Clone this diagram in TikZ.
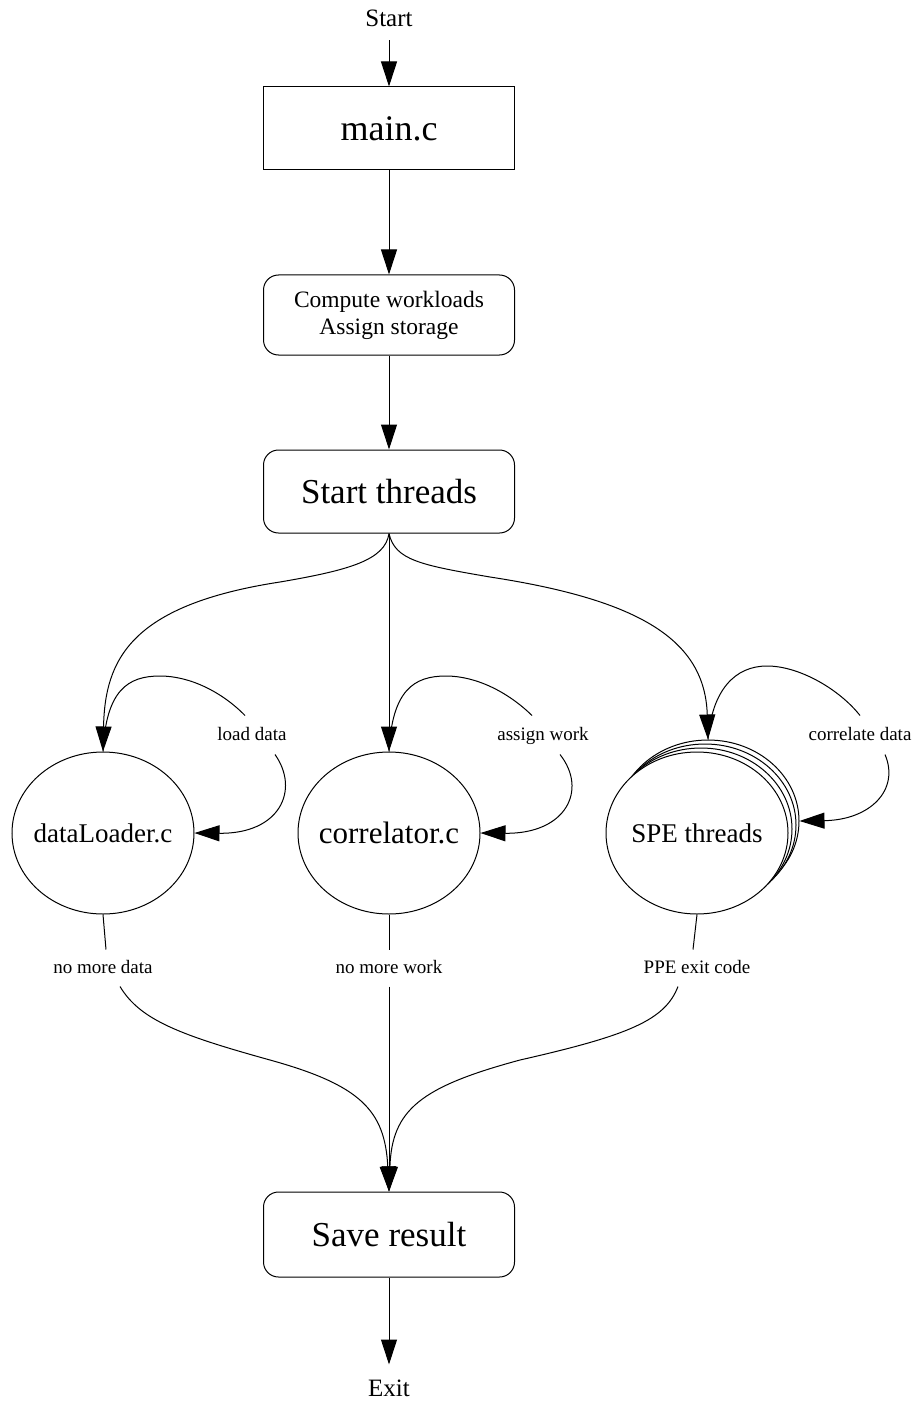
\documentclass[tikz,border=0pt]{standalone}
\usepackage{fontspec}
\setmainfont{Liberation Serif}
\usetikzlibrary{arrows.meta,shapes.geometric}
\begin{document}
\begin{tikzpicture}[x=1pt,y=-1pt,
  line width=1pt,
  arr/.style={-{Triangle[length=25pt,width=16pt]}},
  box/.style={draw, minimum width=251pt, inner sep=0pt},
  rbox/.style={box, rounded corners=15pt},
  oval/.style={draw, ellipse, minimum width=182pt, minimum height=162pt, inner sep=0pt, fill=white},
  elabel/.style={inner sep=0pt, minimum height=38pt, text height=13.5pt, text depth=3.5pt, font=\fontsize{19}{22}\selectfont},
  term/.style={inner sep=0pt, font=\fontsize{25}{30}\selectfont}
]
\useasboundingbox (0,0) rectangle (920,1404);

% main column
\node[term, minimum height=44pt] (start) at (389,18) {Start};
\node[box, minimum height=83pt, font=\fontsize{36}{40}\selectfont] (main) at (389,128.5) {main.c};
\node[rbox, minimum height=80pt, align=center, font=\fontsize{23.5}{27}\selectfont] (work) at (389,315) {Compute workloads\\Assign storage};
\node[rbox, minimum height=83pt, font=\fontsize{35}{40}\selectfont] (thr) at (389,491.5) {Start threads};
\node[rbox, minimum height=85pt, font=\fontsize{35}{40}\selectfont] (save) at (389,1234.5) {Save result};
\node[term, minimum height=46pt] (exit) at (389,1388) {Exit};

% thread states (text boxed at zero width so the ellipse keeps its size)
\node[oval, font=\fontsize{27}{30}\selectfont] (dl) at (103,833) {\makebox[0pt]{dataLoader.c}};
\node[oval, font=\fontsize{31}{34}\selectfont] (cr) at (389,833) {\makebox[0pt]{correlator.c}};
\node[oval] (spe3) at (708,821) {};
\node[oval] (spe2) at (705,825) {};
\node[oval] (spe1) at (701,829) {};
\node[oval, font=\fontsize{27}{30}\selectfont] (spe) at (697,833) {\makebox[0pt]{SPE threads}};

% edge labels
\node[elabel] (ld) at (252,735) {load data};
\node[elabel] (aw) at (543,735) {assign work};
\node[elabel] (cd) at (860,735) {correlate data};
\node[elabel, minimum height=36pt] (nd) at (103,968) {no more data};
\node[elabel, minimum height=36pt] (nw) at (389,968) {no more work};
\node[elabel, minimum height=36pt] (pe) at (697,968) {PPE exit code};

% straight flow
\draw[arr] (start) -- (main);
\draw[arr] (main) -- (work);
\draw[arr] (work) -- (thr);
\draw[arr] (thr) -- (cr);
\draw[arr] (save) -- (exit);

% fan-out to the threads
\draw[arr] (thr.south) .. controls (385,560) and (350,570) .. (280,582)
  .. controls (130,605) and (105,660) .. (dl.north);
\draw[arr] (thr.south) .. controls (395,560) and (420,565) .. (490,577)
  .. controls (640,600) and (705,640) .. (spe3.north);

% self loops
\draw (dl.north) .. controls (106,690) and (128,676) .. (160,676)
  .. controls (190,676) and (222,692) .. ([xshift=-7]ld.north);
\draw[arr] ([xshift=23]ld.south) .. controls (300,790) and (280,834) .. (dl.east);

\draw (cr.north) .. controls (392,690) and (414,676) .. (446,676)
  .. controls (476,676) and (508,692) .. ([xshift=-11]aw.north);
\draw[arr] ([xshift=17]aw.south) .. controls (588,790) and (566,834) .. (cr.east);

\draw (spe3.north) .. controls (712,690) and (735,666) .. (767,666)
  .. controls (800,666) and (840,690) .. (cd.north);
\draw[arr] ([xshift=25]cd.south) .. controls (900,790) and (870,820) .. (spe3.east);

% fan-in to the result
\draw (dl.south) -- ([xshift=3]nd.north);
\draw[arr] ([xshift=17]nd.south) .. controls (140,1020) and (180,1035) .. (270,1060)
  .. controls (360,1085) and (385,1110) .. (save.north);
\draw (cr.south) -- (nw.north);
\draw[arr] (nw.south) -- (save.north);
\draw (spe.south) -- ([xshift=-4]pe.north);
\draw[arr] ([xshift=-19]pe.south) .. controls (665,1020) and (630,1035) .. (520,1060)
  .. controls (420,1087) and (392,1110) .. (save.north);
\end{tikzpicture}
\end{document}
